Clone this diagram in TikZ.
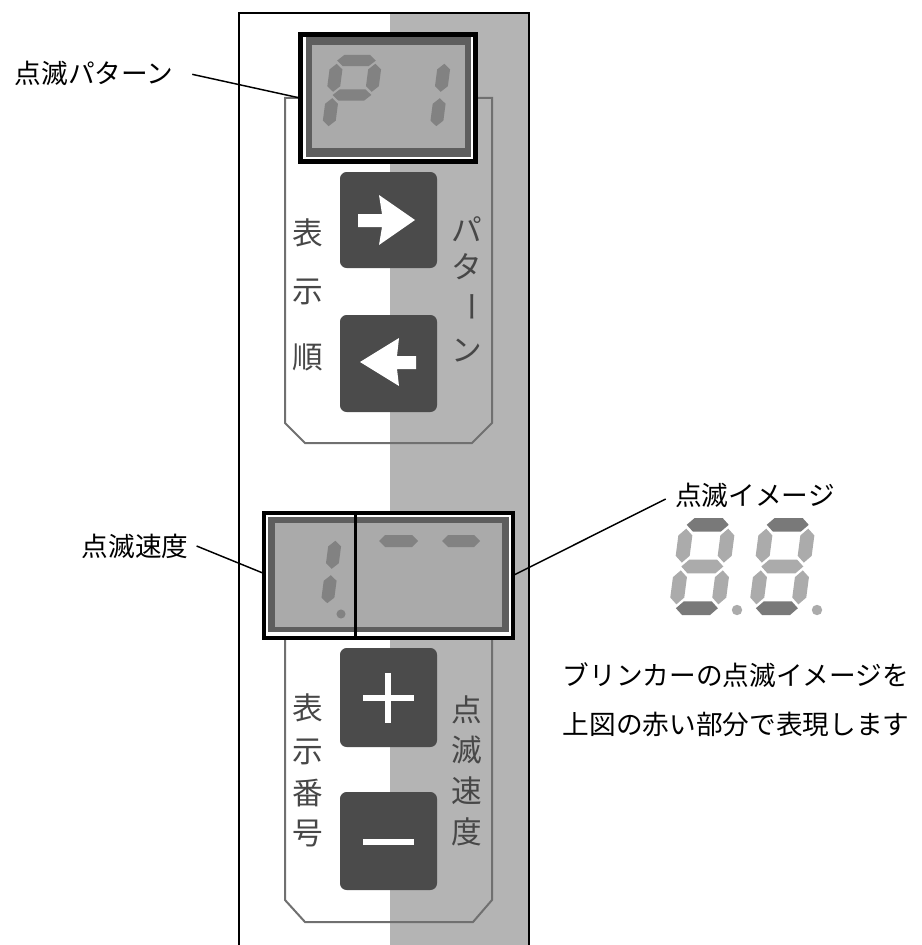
\documentclass[tikz,border=0pt]{standalone}
\usepackage{fontspec}
\setmainfont{Noto Sans CJK JP}
\definecolor{panelgray}{HTML}{B4B4B4}
\definecolor{lcdbg}{HTML}{AAAAAA}
\definecolor{lcdframe}{HTML}{5E5E5E}
\definecolor{lcdseg}{HTML}{828282}
\definecolor{btn}{HTML}{4B4B4B}
\definecolor{framegray}{HTML}{707070}
\definecolor{seglight}{HTML}{ABABAB}
\definecolor{segdark}{HTML}{797979}
\definecolor{textgray}{HTML}{474747}
% seven segment shapes, local units, origin bottom-left, up = negative y
\def\SA{(7,-93)--(14,-100)--(42,-100)--(49,-93)--(42,-86)--(14,-86)--cycle}
\def\SG{(7,-50)--(14,-57)--(42,-57)--(49,-50)--(42,-43)--(14,-43)--cycle}
\def\SD{(7,-7)--(14,-14)--(42,-14)--(49,-7)--(42,0)--(14,0)--cycle}
\def\SE{(7,-11)--(14,-18)--(14,-39)--(7,-46)--(0,-39)--(0,-18)--cycle}
\def\SF{(7,-54)--(14,-61)--(14,-82)--(7,-89)--(0,-82)--(0,-61)--cycle}
\def\SC{(49,-11)--(56,-18)--(56,-39)--(49,-46)--(42,-39)--(42,-18)--cycle}
\def\SB{(49,-54)--(56,-61)--(56,-82)--(49,-89)--(42,-82)--(42,-61)--cycle}
\begin{document}
\begin{tikzpicture}[x=0.75pt,y=-0.75pt,
  lbl/.style={font=\fontsize{20pt}{24pt}\selectfont, inner sep=0pt, text=black},
  plbl/.style={font=\fontsize{23pt}{27pt}\selectfont, inner sep=0pt, text=textgray},
  leader/.style={line width=1.1pt, draw=black},
  frameline/.style={draw=framegray, line width=1.5pt},
  btnbox/.style={fill=btn, rounded corners=5pt},
  blackbox/.style={draw=black, inner sep=0pt, outer sep=0pt},
  smalldigit/.style={xslant=0.13, xscale=0.92, yscale=0.8},
  bigdigit/.style={xslant=0.13, xscale=1.0, yscale=0.97}]
\useasboundingbox (0,0) rectangle (921,945);
\fill[white] (0,0) rectangle (921,945);
% panel
\fill[panelgray] (390,13) rectangle (529,945);
\draw[line width=1.5pt] (239,945) -- (239,13) -- (529,13) -- (529,945);
% thin frames
\draw[frameline] (300,98) -- (285,98) -- (285,423) -- (305,443) -- (472,443) -- (492,423) -- (492,98) -- (476,98);
\draw[frameline] (285,636) -- (285,900) -- (305,922) -- (473,922) -- (492,900) -- (492,636);

% ---------- top display ----------
\fill[white] (302,37) rectangle (474,160);
\fill[lcdframe] (306,37) rectangle (471,157);
\fill[lcdbg] (312,45) rectangle (465,148);
\begin{scope}[shift={(321,135)}, smalldigit]
  \fill[lcdseg] \SA; \fill[lcdseg] \SB; \fill[lcdseg] \SF; \fill[lcdseg] \SG; \fill[lcdseg] \SE;
\end{scope}
\begin{scope}[shift={(390,135)}, smalldigit]
  \fill[lcdseg] \SB; \fill[lcdseg] \SC;
\end{scope}
\node[blackbox, line width=3.75pt, minimum width=131.6pt, minimum height=95.25pt] (dispTop) at (387.75,98) {};

% arrow buttons
\fill[btnbox] (340,172) rectangle (437,268);
\fill[btnbox] (340,315) rectangle (437,412);
\fill[white] (358,214) -- (382,214) -- (379,195) -- (415,220) -- (379,245) -- (382,227) -- (358,227) -- cycle;
\fill[white] (416,356) -- (397,356) -- (399,338) -- (360,362) -- (399,386) -- (397,369) -- (416,369) -- cycle;

% panel labels upper
\node[plbl] (t1) at (308,233) {表};
\node[plbl] (t2) at (308,292) {示};
\node[plbl] (t3) at (308,357) {順};
\node[plbl] (p1) at (467,229) {パ};
\node[plbl] (p2) at (467,267) {タ};
\node[plbl, rotate=-90] (p3) at (467,307) {ー};
\node[plbl] (p4) at (467,351) {ン};

% ---------- lower display ----------
\fill[white] (266,515) rectangle (511,636);
\fill[lcdframe] (268,517) rectangle (509,632);
\fill[lcdbg] (275,523) rectangle (502,627);
\begin{scope}[shift={(281,612)}, smalldigit]
  \fill[lcdseg] \SB; \fill[lcdseg] \SC;
\end{scope}
\fill[lcdseg] (341,614) circle (3.4pt);
\fill[lcdseg] (379,541) -- (385,535) -- (412,535) -- (418,541) -- (412,547) -- (385,547) -- cycle;
\fill[lcdseg] (442,541) -- (448,535) -- (474,535) -- (480,541) -- (474,547) -- (448,547) -- cycle;
\node[blackbox, line width=3pt, minimum width=186.75pt, minimum height=93.75pt] (dispSpd) at (388.5,575.5) {};
\draw[line width=2.8pt] (dispSpd.north) ++(-24.75pt,0) coordinate (divT) -- (divT |- dispSpd.south);

% plus / minus buttons
\fill[btnbox] (340,648) rectangle (437,747);
\fill[btnbox] (340,792) rectangle (437,890);
\fill[white] (363,695) rectangle (414,701);
\fill[white] (385,673) rectangle (391,723);
\fill[white] (363,839) rectangle (414,845);

% panel labels lower
\node[plbl] (b1) at (308,708) {表};
\node[plbl] (b2) at (308,752) {示};
\node[plbl] (b3) at (308,793) {番};
\node[plbl] (b4) at (308,833) {号};
\node[plbl] (s1) at (467,710) {点};
\node[plbl] (s2) at (467,750) {滅};
\node[plbl] (s3) at (467,791) {速};
\node[plbl] (s4) at (467,832) {度};

% ---------- big digits 8.8. ----------
\foreach \ox in {668,748} {
  \begin{scope}[shift={(\ox,615)}, bigdigit]
    \fill[segdark] \SA; \fill[segdark] \SD;
    \fill[seglight] \SB; \fill[seglight] \SC; \fill[seglight] \SE; \fill[seglight] \SF; \fill[seglight] \SG;
  \end{scope}
}
\fill[seglight] (737,610) circle (3.9pt);
\fill[seglight] (817,610) circle (3.9pt);

% ---------- labels and leaders ----------
\node[lbl] (lblP) at (94,73) {点滅パターン};
\node[lbl] (lblS) at (135,546) {点滅速度};
\node[lbl] (lblI) at (755,495) {点滅イメージ};
\node[lbl] (note1) at (736,675) {ブリンカーの点滅イメージを};
\node[lbl] (note2) at (736,724) {上図の赤い部分で表現します};
\draw[leader] ([xshift=14pt,yshift=-1pt]lblP.east) -- (dispTop.west);
\draw[leader] ([xshift=6pt]lblS.east) -- ([yshift=1.5pt]dispSpd.west);
\draw[leader] ([xshift=-7pt,yshift=-3pt]lblI.west) -- (dispSpd.east);
\end{tikzpicture}
\end{document}
